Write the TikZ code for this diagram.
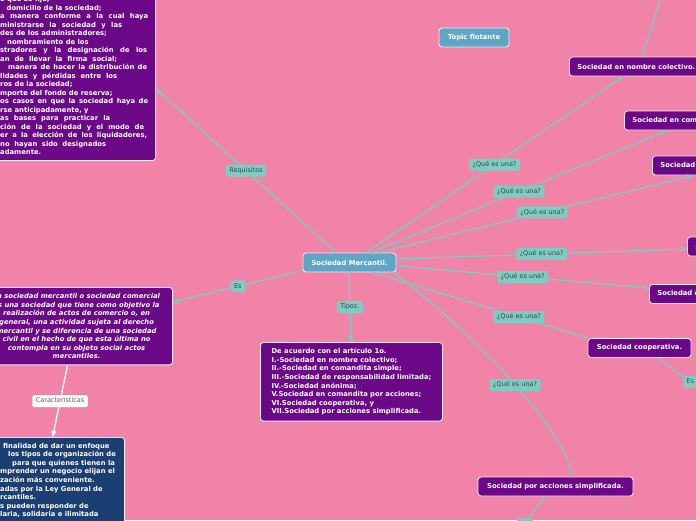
\documentclass[tikz,border=0pt]{standalone}
\usepackage{fontspec}
\setmainfont{DejaVu Sans}[BoldFont={DejaVu Sans Bold},ItalicFont={DejaVu Sans Oblique},BoldItalicFont={DejaVu Sans Bold Oblique}]
\usetikzlibrary{arrows.meta}
\definecolor{bgcol}{RGB}{242,131,168}
\definecolor{conncol}{RGB}{126,202,192}
\definecolor{lblfill}{RGB}{126,204,192}
\definecolor{lbltext}{RGB}{55,70,70}
\definecolor{purp}{RGB}{106,8,135}
\definecolor{bluen}{RGB}{94,165,198}
\definecolor{navy}{RGB}{27,62,115}
\definecolor{edgecol}{RGB}{250,232,242}
\newcommand{\nodefs}{\fontsize{6.8pt}{8.6pt}\selectfont\bfseries}
\newcommand{\lblfs}{\fontsize{6.5pt}{7pt}\selectfont}
\tikzset{
  pbox/.style={draw=edgecol, line width=0.9pt, fill=purp, rounded corners=3pt, text=white, font=\nodefs, inner xsep=8pt, inner ysep=0pt, minimum height=19pt},
  bbox/.style={pbox, fill=bluen},
  lbl/.style={fill=lblfill, text=lbltext, font=\lblfs, rounded corners=1.5pt, inner xsep=3.5pt, inner ysep=0pt, minimum height=12pt, text height=4.8pt, text depth=1.4pt},
  lblw/.style={lbl, fill=white, text=black!65},
  conn/.style={draw=conncol, line width=1.3pt, -{Triangle[length=6pt,width=5pt]}},
  plainc/.style={draw=conncol, line width=1.3pt},
  frag/.style={anchor=base west, inner sep=0pt, text=white, font=\nodefs},
}
\begin{document}
\begin{tikzpicture}[x=1pt,y=-1pt]
\useasboundingbox (0,0) rectangle (696,520);
\fill[bgcol] (0,0) rectangle (696,520);

% central and floating topics
\node[bbox, minimum width=93pt] (merc) at (349.5,262.5) {Sociedad Mercantil.};
\node[bbox, minimum width=70pt] (topic) at (474,37.5) {Topic flotante};

% right side boxes
\node[pbox, anchor=west] (nc) at (569,66.5) {Sociedad en nombre colectivo.};
\node[pbox, anchor=west] (cs) at (624,120.5) {Sociedad en comandita simple.};
\node[pbox, anchor=west] (rl) at (652,165.5) {Sociedad de responsabilidad limitada.};
\node[pbox, anchor=west] (an) at (687,246.5) {Sociedad anónima.};
\node[pbox, anchor=west] (ca) at (649,294) {Sociedad en comandita por acciones.};
\node[pbox, minimum width=103pt] (co) at (639.5,348) {Sociedad cooperativa.};
\node[pbox, minimum width=155pt] (sps) at (555.5,486.5) {Sociedad por acciones simplificada.};

% types box
\node[pbox, anchor=north west, align=left, minimum width=182pt, inner ysep=5.8pt] (tip) at (260,342) {De acuerdo con el artículo 1o.\\
I.-Sociedad en nombre colectivo;\\
II.-Sociedad en comandita simple;\\
III.-Sociedad de responsabilidad limitada;\\
IV.-Sociedad anónima;\\
V.Sociedad en comandita por acciones;\\
VI.Sociedad cooperativa, y\\
VII.Sociedad por acciones simplificada.};

% definition box (left)
\node[pbox, anchor=north east, align=center, minimum width=192pt, inner ysep=6pt, font=\nodefs\itshape] (lsm) at (173,287) {La sociedad mercantil o sociedad comercial\\
es una sociedad que tiene como objetivo la\\
realización de actos de comercio o, en\\
general, una actividad sujeta al derecho\\
mercantil y se diferencia de una sociedad\\
civil en el hecho de que esta última no\\
contempla en su objeto social actos\\
mercantiles.};

% requisitos box (top left)
\node[pbox, anchor=south east, minimum width=200pt, minimum height=190pt] (req) at (156,161) {};
\node[frag] (r1) at (0,1.7) {o que se fije;};
\node[frag] (r2) at (6.5,10.2) {domicilio de la sociedad;};
\node[frag] (r3) at (0,18.7) {\makebox[148pt][s]{a manera conforme a la cual haya}};
\node[frag] (r4) at (0,27.2) {\makebox[122pt][s]{ministrarse la sociedad y las}};
\node[frag] (r5) at (0,35.7) {des de los administradores;};
\node[frag] (r6) at (7,44.2) {nombramiento de los};
\node[frag] (r7) at (0,52.7) {\makebox[147pt][s]{stradores y la designación de los}};
\node[frag] (r8) at (0,61.2) {\makebox[117pt][s]{an de llevar la firma social;}};
\node[frag] (r9) at (8,69.7) {\makebox[139pt][s]{manera de hacer la distribución de}};
\node[frag] (r10) at (0,78.2) {\makebox[117pt][s]{lidades y pérdidas entre los}};
\node[frag] (r11) at (0,86.7) {ros de la sociedad;};
\node[frag] (r12) at (0,95.2) {mporte del fondo de reserva;};
\node[frag] (r13) at (0,103.7) {\makebox[148pt][s]{os casos en que la sociedad haya de}};
\node[frag] (r14) at (0,112.2) {rse anticipadamente, y};
\node[frag] (r15) at (0,120.7) {\makebox[110pt][s]{as bases para practicar la}};
\node[frag] (r16) at (0,129.2) {\makebox[144pt][s]{ción de la sociedad y el modo de}};
\node[frag] (r17) at (0,137.7) {\makebox[147pt][s]{er a la elección de los liquidadores,}};
\node[frag] (r18) at (0,146.2) {\makebox[106pt][s]{no hayan sido designados}};
\node[frag] (r19) at (0,154.7) {adamente.};

% characteristics box (bottom left)
\node[pbox, fill=navy, anchor=north east, minimum width=180pt, minimum height=110pt] (db) at (125,437) {};
\node[frag] (d1) at (3,448) {finalidad de dar un enfoque};
\node[frag] (d2) at (8,456.6) {los tipos de organización de};
\node[frag] (d3) at (12,465.2) {para que quienes tienen la};
\node[frag] (d4) at (0,473.8) {mprender un negocio elijan el};
\node[frag] (d5) at (0,482.4) {zación más conveniente.};
\node[frag] (d6) at (0,491) {adas por la Ley General de};
\node[frag] (d7) at (0,499.6) {rcantiles.};
\node[frag] (d8) at (0,508.2) {s pueden responder de};
\node[frag] (d9) at (0,516.8) {laria, solidaria e ilimitada};

% labels partially outside
\node[lbl, anchor=west] (es2) at (683,382) {Es};
\node[lbl, minimum width=16pt] (lbl3) at (525,524) {};
\coordinate (ncup) at (664,-12);
\coordinate (tiptop) at (350.6,342);

% connectors
\draw[conn] ([xshift=-13.5pt]merc.north) -- ([yshift=-23pt]req.east) node[lbl, pos=0.5] (lreq) {Requisitos};
\draw[conn] ([yshift=-8pt]merc.west) -- ([yshift=24pt]lsm.east) node[lbl, pos=0.5] (les) {Es};
\draw[conn, line width=1.5pt] ([xshift=-0.4pt]merc.south) -- (tiptop) node[lbl, pos=0.5] (ltip) {Tipos.};
\draw[conn] ([xshift=16.5pt]merc.north) -- ([xshift=54pt]nc.south west) node[lbl, pos=0.5] (l1) {¿Qué es una?};
\draw[conn] ([xshift=21.5pt]merc.north) -- ([xshift=43pt]cs.south west) node[lbl, pos=0.5] (l2) {¿Qué es una?};
\draw[conn] ([xshift=29.5pt]merc.north) -- ([xshift=41pt]rl.south west) node[lbl, pos=0.52] (l3) {¿Qué es una?};
\draw[conn] ([yshift=3.5pt]merc.east) -- ([yshift=-2.5pt]an.west) node[lbl, pos=0.5] (l4) {¿Qué es una?};
\draw[conn] ([yshift=-3.3pt]merc.east) -- ([yshift=6pt]ca.west) node[lbl, pos=0.5] (l5) {¿Qué es una?};
\draw[plainc] ([xshift=23.5pt]merc.south) -- (co.north west) node[lbl, pos=0.68] (l6) {¿Qué es una?};
\draw[plainc] ([xshift=44.5pt]merc.south) .. controls +(87,67) and +(0,-39) .. ([xshift=15.5pt]sps.north) node[lbl, pos=0.5] (l7) {¿Qué es una?};
\draw[draw=white, line width=1.3pt, -{Triangle[length=6pt,width=5pt]}] ([xshift=-9pt]lsm.south) -- ([xshift=18pt]db.north) node[lblw, pos=0.5] (lcar) {Caracteristicas};
\draw[plainc] ([xshift=73pt]nc.north west) -- (ncup);
\draw[plainc] ([xshift=18.5pt]co.south) -- (es2);
\draw[plainc] ([xshift=-10.5pt]sps.south) -- (lbl3);
\end{tikzpicture}
\end{document}
